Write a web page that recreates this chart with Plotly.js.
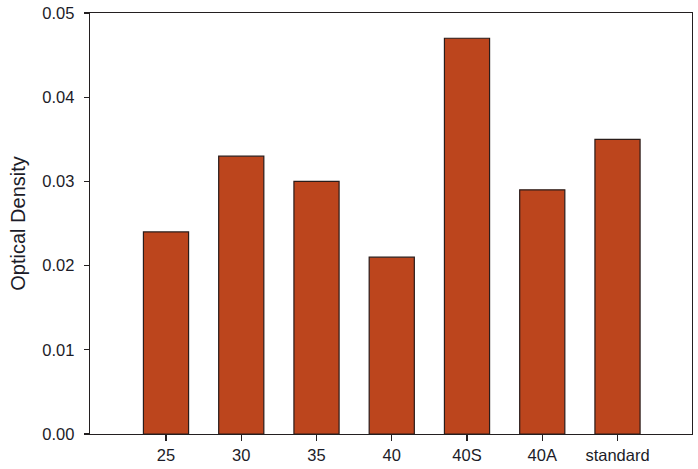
<!DOCTYPE html>
<html>
<head>
<meta charset="utf-8">
<script src="https://cdn.plot.ly/plotly-3.0.1.min.js"></script>
<style>html,body{margin:0;padding:0;background:#fff;}#chart{width:698px;height:469px;}</style>
</head>
<body>
<div id="chart"></div>
<script>
var categories = ["25", "30", "35", "40", "40S", "40A", "standard"];
var opticalDensity = [0.024, 0.033, 0.030, 0.021, 0.047, 0.029, 0.035];
var yTickValues = [0, 0.01, 0.02, 0.03, 0.04, 0.05];
var yTickLabels = ["0.00", "0.01", "0.02", "0.03", "0.04", "0.05"];

var axisColor = "#231f20";
var textColor = "#1c1c28";
var fontFamily = "Arial, 'Liberation Sans', sans-serif";

var trace = {
  type: "bar",
  x: categories,
  y: opticalDensity,
  width: 0.6,
  marker: { color: "#BC451D", line: { color: "#2a1c1a", width: 1.2 } },
  hoverinfo: "x+y"
};

var layout = {
  width: 698,
  height: 469,
  margin: { l: 90, r: 6, t: 13, b: 35, pad: 0 },
  paper_bgcolor: "#ffffff",
  plot_bgcolor: "#ffffff",
  showlegend: false,
  font: { family: fontFamily, color: textColor, size: 16 },
  xaxis: {
    type: "category",
    range: [-1.01, 6.99],
    showgrid: false,
    zeroline: false,
    showline: true,
    linecolor: axisColor,
    linewidth: 1.3,
    mirror: true,
    ticks: "outside",
    ticklen: 6,
    tickwidth: 1.3,
    tickcolor: axisColor,
    tickfont: { family: fontFamily, size: 16.5, color: textColor },
    fixedrange: true
  },
  yaxis: {
    range: [0, 0.05],
    tickvals: yTickValues,
    ticktext: yTickLabels,
    showgrid: false,
    zeroline: false,
    showline: true,
    linecolor: axisColor,
    linewidth: 1.3,
    mirror: true,
    ticks: "outside",
    ticklen: 5,
    tickwidth: 1.3,
    tickcolor: axisColor,
    ticklabelstandoff: 6,
    tickfont: { family: fontFamily, size: 16.5, color: textColor },
    title: { text: "Optical Density", font: { family: fontFamily, size: 20, color: textColor }, standoff: 11 },
    fixedrange: true
  }
};

Plotly.newPlot("chart", [trace], layout, { displayModeBar: false, staticPlot: true });
</script>
</body>
</html>
